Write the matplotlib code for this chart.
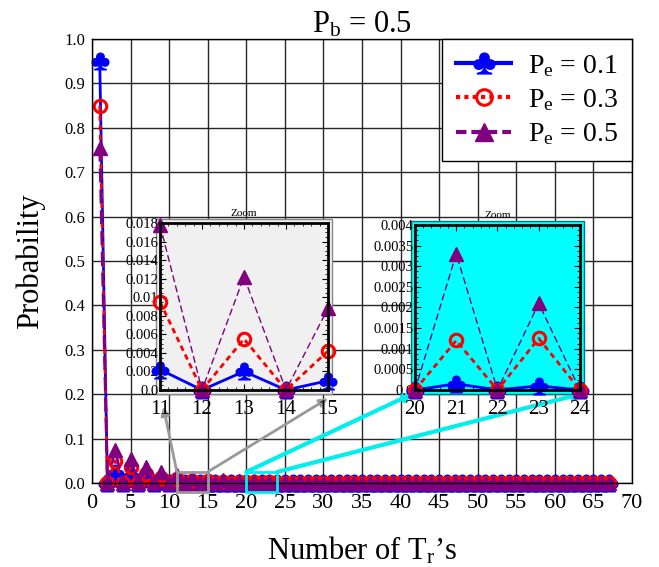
import matplotlib
matplotlib.use("Agg")
from matplotlib import pyplot as plt
from matplotlib.patches import Rectangle
from matplotlib.ticker import AutoMinorLocator, FixedLocator, FixedFormatter

plt.rcParams["font.family"] = ["Liberation Serif", "DejaVu Serif"]
plt.rcParams["mathtext.fontset"] = "custom"
plt.rcParams["mathtext.rm"] = "Liberation Serif"
plt.rcParams["mathtext.it"] = "Liberation Serif:italic"

# number of T_r's
trials = list(range(1, 68))

# probabilities (even trial counts sit at zero)
pe_01 = [0.95, 0, 0.022, 0, 0.015, 0, 0.008, 0, 0.004, 0,
         0.0022, 0, 0.002, 0, 0.001, 0, 0.0006, 0, 0.0003, 0,
         0.00015, 0, 0.0001, 0, 0.00008, 0, 0.00006, 0, 0.00005, 0,
         0.00004, 0, 0.00003, 0, 0.00003, 0, 0.00002, 0, 0.00002, 0,
         0.00002, 0, 0.00001, 0, 0.00001, 0, 0.00001, 0, 0.00001, 0,
         0.00001, 0, 0.00001, 0, 0, 0, 0, 0, 0, 0,
         0, 0, 0, 0, 0, 0, 0]
pe_03 = [0.85, 0, 0.05, 0, 0.035, 0, 0.02, 0, 0.012, 0,
         0.0095, 0, 0.0055, 0, 0.0042, 0, 0.003, 0, 0.002, 0,
         0.0012, 0, 0.00125, 0, 0.0009, 0, 0.0008, 0, 0.0006, 0,
         0.0005, 0, 0.0004, 0, 0.0004, 0, 0.0003, 0, 0.0003, 0,
         0.0002, 0, 0.0002, 0, 0.0002, 0, 0.0001, 0, 0.0001, 0,
         0.0001, 0, 0.0001, 0, 0.0001, 0, 0.00005, 0, 0.00005, 0,
         0.00005, 0, 0.00005, 0, 0.00005, 0, 0.00005]
pe_05 = [0.755, 0, 0.075, 0, 0.055, 0, 0.035, 0, 0.025, 0,
         0.0178, 0, 0.0122, 0, 0.0088, 0, 0.006, 0, 0.0045, 0,
         0.0033, 0, 0.0021, 0, 0.0016, 0, 0.0013, 0, 0.0011, 0,
         0.0009, 0, 0.0007, 0, 0.0006, 0, 0.0005, 0, 0.0004, 0,
         0.0004, 0, 0.0003, 0, 0.0003, 0, 0.0002, 0, 0.0002, 0,
         0.0002, 0, 0.0002, 0, 0.0001, 0, 0.0001, 0, 0.0001, 0,
         0.0001, 0, 0.0001, 0, 0.0001, 0, 0.0001]

labels = [r"P$_\mathrm{e}$ = 0.1", r"P$_\mathrm{e}$ = 0.3", r"P$_\mathrm{e}$ = 0.5"]

zoom1_x = (11, 15)
zoom1_yticks = [0, 0.002, 0.004, 0.006, 0.008, 0.01, 0.012, 0.014, 0.016, 0.018]
zoom1_ylabels = ["0.0", "0.002", "0.004", "0.006", "0.008", "0.01",
                 "0.012", "0.014", "0.016", "0.018"]
zoom2_x = (20, 24)
zoom2_yticks = [0, 0.0005, 0.001, 0.0015, 0.002, 0.0025, 0.003, 0.0035, 0.004]
zoom2_ylabels = ["0.0", "0.0005", "0.001", "0.0015", "0.002", "0.0025",
                 "0.003", "0.0035", "0.004"]

styles = [
    dict(color="blue", linestyle="-", marker=r"$\clubsuit$", markersize=12),
    dict(color="red", linestyle=(0, (2, 1.5)), marker="o", markersize=9,
         markerfacecolor="none", markeredgewidth=2.2),
    dict(color="purple", linestyle=(0, (5, 2.5)), marker="^", markersize=10),
]
series = [pe_01, pe_03, pe_05]

fig = plt.figure(figsize=(6.59, 5.67), dpi=100)
ax = fig.add_axes([0.1396, 0.1481, 0.8194, 0.7831])

for vals, st, lab in zip(series, styles, labels):
    ax.plot(trials, vals, linewidth=2, label=lab, clip_on=False, **st)

ax.set_xlim(0, 70)
ax.set_ylim(0, 1.0)
ax.set_xticks(range(0, 71, 5))
ax.set_yticks([i / 10 for i in range(11)])
ax.set_yticklabels([f"{i / 10:.1f}" for i in range(11)])
ax.tick_params(axis="x", labelsize=16, length=0, pad=8)
ax.tick_params(axis="y", labelsize=12, length=0, pad=5)
ax.grid(True, color="0.15", linewidth=1)
ax.set_axisbelow(True)
for s in ax.spines.values():
    s.set_linewidth(1)
ax.set_title(r"P$_\mathrm{b}$ = 0.5", fontsize=22, pad=4)
ax.set_xlabel(r"Number of T$_\mathrm{r}$’s", fontsize=22, labelpad=16)
ax.set_ylabel("Probability", fontsize=22, labelpad=14)

leg = ax.legend(loc="upper right", fontsize=20, fancybox=False, framealpha=1,
                edgecolor="black", borderaxespad=0, handlelength=2.0,
                labelspacing=0.3, borderpad=0.5, handletextpad=0.6,
                markerscale=1.25)
leg.get_frame().set_linewidth(1)
for line, dash in zip(leg.get_lines(), [None, (1, 1), (2.5, 1.2)]):
    line.set_linewidth(3)
    if dash is not None:
        line.set_linestyle((0, dash))


def make_inset(rect, xr, yticks, ylabels, face, outer):
    axin = fig.add_axes(rect, zorder=5)
    axin.set_facecolor(face)
    idx = [i for i, t in enumerate(trials) if xr[0] <= t <= xr[1]]
    xs = [trials[i] for i in idx]
    for vals, st in zip(series, styles):
        lw = 1 if st["color"] == "purple" else 2
        axin.plot(xs, [vals[i] for i in idx], linewidth=lw, clip_on=False, **st)
    axin.set_xlim(*xr)
    axin.set_ylim(yticks[0], yticks[-1])
    axin.set_xticks(range(xr[0], xr[1] + 1))
    axin.yaxis.set_major_locator(FixedLocator(yticks))
    axin.yaxis.set_major_formatter(FixedFormatter(ylabels))
    axin.xaxis.set_minor_locator(AutoMinorLocator(5))
    axin.yaxis.set_minor_locator(AutoMinorLocator(4))
    axin.tick_params(which="both", direction="in", top=True, right=True)
    axin.tick_params(which="major", length=4)
    axin.tick_params(which="minor", length=2)
    axin.tick_params(axis="x", labelsize=15, pad=7)
    axin.tick_params(axis="y", labelsize=10.5, pad=1)
    for s in axin.spines.values():
        s.set_linewidth(2)
    pad = Rectangle((-0.025, -0.025), 1.05, 1.05, transform=axin.transAxes,
                    facecolor=face, edgecolor=outer, linewidth=1,
                    clip_on=False, zorder=-1)
    axin.add_patch(pad)
    axin.set_title("Zoom", fontsize=8, pad=5)
    return axin


axin1 = make_inset([0.2428, 0.3122, 0.2549, 0.2945], zoom1_x,
                   zoom1_yticks, zoom1_ylabels, "#f0f0f0", "#888888")
axin2 = make_inset([0.6297, 0.3122, 0.2504, 0.2910], zoom2_x,
                   zoom2_yticks, zoom2_ylabels, "#00ffff", "#007a7a")

# zoom windows on the main axes and their connectors
for xr, axin, col, lw, tips in [
    (zoom1_x, axin1, "#999999", 2, [(0.02, -0.1), (1.0, -0.05)]),
    (zoom2_x, axin2, "#00eeee", 3, [(-0.01, -0.02), (1.02, -0.02)]),
]:
    ax.add_patch(Rectangle((xr[0], -0.02), xr[1] - xr[0], 0.045, fill=False,
                           edgecolor=col, linewidth=2, clip_on=False, zorder=4))
    for xs, tip in zip(xr, tips):
        ax.annotate("", xy=tip, xycoords=axin.transAxes,
                    xytext=(xs, 0.025), textcoords="data",
                    arrowprops=dict(arrowstyle="-|>", color=col, lw=lw,
                                    mutation_scale=12, shrinkA=0, shrinkB=0),
                    zorder=4)

fig.savefig("out.png", dpi=100)
